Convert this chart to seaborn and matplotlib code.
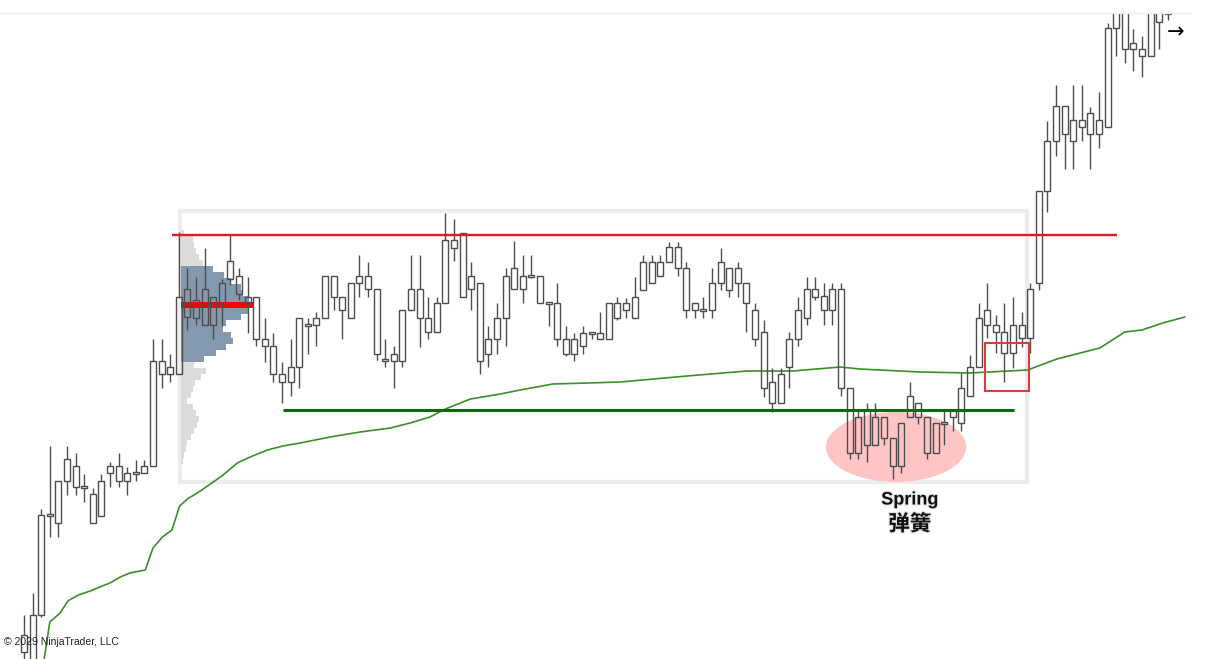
""" Trading range with a spring, drawn as a hollow candlestick chart """
import numpy as np
import pandas as pd
import seaborn as sns
import matplotlib.pyplot as plt
import matplotlib.patheffects as pe
from matplotlib.patches import Ellipse, Rectangle
from matplotlib.lines import Line2D

# OHLC per bar (price units)
opens = [8, 0, 45, 144, 137, 201, 194, 174, 137, 144,
         194, 194, 179, 186, 187, 194, 299, 286, 286, 371,
         342, 371, 335, 355, 399, 384, 363, 363, 321, 314,
         278, 278, 293, 334, 335, 342, 384, 350, 342, 384,
         384, 371, 299, 299, 299, 371, 371, 328, 328, 357,
         420, 427, 384, 377, 306, 321, 342, 392, 371, 385,
         384, 358, 357, 321, 306, 314, 328, 321, 321, 342,
         357, 342, 370, 377, 384, 413, 413, 392, 357, 349,
         350, 398, 370, 392, 377, 350, 328, 257, 257, 293,
         321, 342, 371, 350, 371, 371, 272, 207, 250, 215,
         243, 194, 194, 264, 257, 243, 207, 236, 243, 237,
         264, 293, 350, 335, 307, 307, 322, 322, 377, 469,
         519, 554, 519, 540, 526, 526, 533, 660, 660, 617,
         604, 604, 638, 646]
highs = [45, 67, 151, 214, 179, 214, 207, 186, 172, 186,
         198, 207, 193, 200, 200, 321, 321, 306, 428, 392,
         383, 412, 363, 381, 425, 392, 383, 363, 342, 327,
         298, 321, 342, 342, 348, 384, 384, 363, 377, 405,
         398, 371, 321, 314, 350, 405, 405, 363, 363, 447,
         441, 427, 398, 377, 334, 357, 392, 419, 405, 405,
         384, 358, 377, 334, 327, 334, 328, 348, 357, 363,
         362, 383, 405, 405, 405, 418, 418, 398, 357, 363,
         392, 412, 392, 398, 377, 357, 340, 292, 292, 328,
         363, 383, 383, 377, 377, 377, 272, 250, 257, 257,
         243, 222, 237, 278, 257, 243, 237, 250, 250, 287,
         305, 357, 377, 345, 357, 363, 348, 377, 469, 539,
         575, 554, 575, 575, 553, 568, 637, 670, 665, 631,
         624, 665, 660, 650]
lows = [0, 0, 43, 123, 123, 165, 165, 158, 137, 144,
        173, 173, 165, 179, 187, 194, 272, 278, 286, 330,
        335, 335, 321, 334, 375, 360, 327, 314, 298, 278,
        257, 264, 272, 306, 314, 342, 350, 321, 342, 363,
        363, 300, 293, 272, 293, 350, 313, 321, 328, 357,
        399, 363, 350, 286, 293, 306, 314, 371, 357, 382,
        357, 334, 314, 304, 299, 306, 321, 321, 321, 340,
        342, 342, 370, 377, 384, 398, 384, 342, 342, 342,
        342, 370, 363, 363, 328, 314, 263, 248, 257, 272,
        314, 335, 360, 335, 335, 264, 201, 201, 198, 215,
        215, 181, 187, 243, 236, 201, 207, 215, 229, 229,
        264, 293, 322, 307, 278, 292, 313, 307, 370, 448,
        504, 491, 491, 519, 491, 512, 533, 604, 597, 589,
        583, 604, 611, 640]
closes = [25, 45, 145, 146, 179, 179, 173, 172, 166, 179,
          187, 179, 187, 188, 194, 299, 286, 293, 363, 343,
          360, 335, 363, 377, 381, 366, 358, 321, 314, 286,
          286, 293, 342, 336, 342, 384, 363, 363, 377, 377,
          371, 306, 301, 306, 350, 350, 342, 342, 357, 420,
          412, 363, 371, 299, 321, 342, 384, 371, 384, 383,
          357, 356, 321, 306, 321, 327, 326, 327, 357, 357,
          350, 363, 398, 398, 398, 398, 392, 350, 350, 351,
          377, 377, 392, 377, 357, 321, 272, 278, 286, 321,
          350, 371, 363, 364, 350, 272, 207, 243, 215, 243,
          222, 222, 237, 243, 243, 207, 237, 238, 250, 272,
          293, 342, 335, 328, 328, 335, 335, 371, 469, 519,
          554, 526, 540, 533, 547, 540, 632, 632, 611, 611,
          611, 660, 652, 648]

# moving average line (bar position, price)
ma_bar = [2.3, 3.0, 4.2, 5.1, 6.3, 7.7, 9.1, 10.0, 11.2, 12.3,
          14.1, 15.0, 16.1, 17.2, 18.1, 19.0, 20.5, 23.0, 24.8, 26.3,
          28.3, 30.1, 32.1, 35.6, 39.1, 42.6, 44.9, 47.2, 49.0, 51.9,
          55.4, 57.7, 61.5, 65.5, 69.3, 77.1, 84.1, 89.4, 94.9, 97.2,
          104.2, 110.0, 116.7, 120.1, 125.1, 128.0, 130.0, 132.4, 135.0]
ma_price = [-2, 38, 47, 59, 65, 69, 74, 77, 83, 87,
            90, 112, 123, 130, 154, 161, 169, 184, 197, 203,
            210, 214, 217, 223, 228, 232, 237, 243, 251, 261,
            266, 270, 276, 277, 278, 284, 289, 289, 293, 291,
            288, 287, 290, 301, 312, 328, 330, 337, 343]

# volume profile of the range, top row first
profile_price = list(range(427, 198, -6))
profile_vol = [30, 120, 130, 150, 180, 220, 320, 430, 500, 600,
               620, 680, 730, 670, 600, 450, 420, 500, 520, 450,
               350, 230, 130, 250, 200, 140, 120, 100, 60, 120,
               150, 180, 160, 130, 100, 60, 50, 30, 20]
poc_row = 12
va_rows = (6, 21)

range_high = 425
range_low = 250

sns.set_style("white")
fig = plt.figure(figsize=(12.07, 6.59), dpi=100)
ax = fig.add_axes([0, 0, 1, 646 / 659])
ax.set_xlim(-2.79, 137.56)
ax.set_ylim(1, 647)
ax.axis("off")

# range box around the profile
ax.add_patch(Rectangle((18.14, 178), 98.5, 271, fill=False,
                       edgecolor="#ececec", lw=3, zorder=1))

# spring highlight
ax.add_patch(Ellipse((101.4, 213), 16.3, 70, facecolor="#ffc4c4",
                     edgecolor="none", zorder=1))

# volume profile
vol = np.array(profile_vol, dtype=float)
widths = vol / vol.max() * 8.5
colors = ["#8499ae" if va_rows[0] <= k <= va_rows[1] else "#dcdcdc"
          for k in range(len(vol))]
ax.barh(profile_price, widths, height=5.6, left=18.3, color=colors,
        lw=0, zorder=2)
ax.barh(profile_price[poc_row], widths[poc_row], height=6.5, left=18.3,
        color="#ff0000", lw=0, zorder=3)

# moving average
ma = pd.DataFrame({"bar": ma_bar, "price": ma_price})
sns.lineplot(data=ma, x="bar", y="price", color="#3b8f2b", lw=1.2,
             sort=False, ax=ax, zorder=2)

# candles (hollow bodies)
o = np.array(opens)
c = np.array(closes)
x = np.arange(len(o))
top = np.maximum(o, c)
bot = np.minimum(o, c)
edge = "#4d4d4d"
ax.vlines(x, top, highs, color=edge, lw=1.0, zorder=4)
ax.vlines(x, lows, bot, color=edge, lw=1.0, zorder=4)
ax.bar(x, top - bot, bottom=bot, width=0.7, fill=False,
       edgecolor=edge, lw=1.0, zorder=4)

# range high / low
ax.hlines(range_high, 17.2, 127.1, color="#e01a1f", lw=1.7, zorder=5)
ax.hlines(range_low, 30.1, 115.1, color="#0b6b0b", lw=2.2, zorder=5)

# test after the spring
ax.add_patch(Rectangle((111.74, 269), 5.12, 48, fill=False,
                       edgecolor="#e03c3c", lw=1.5, zorder=5))

glow = [pe.withStroke(linewidth=1.5, foreground="#e2e2e2")]
ax.text(103.0, 160, "Spring", ha="center", va="center", fontsize=13,
        fontweight="bold", family=["Liberation Sans", "Noto Sans CJK SC"],
        color="#111111", path_effects=glow, zorder=6)
ax.text(103.0, 136, "弹簧", ha="center", va="center", fontsize=15.5,
        fontweight="bold", family=["Noto Sans CJK SC", "DejaVu Sans"],
        color="#111111", path_effects=glow, zorder=6)
ax.text(133.95, 628, "→", ha="center", va="center", fontsize=15,
        color="black", zorder=6)

fig.add_artist(Line2D([0, 1190 / 1207], [1 - 13 / 659, 1 - 13 / 659],
                      color="#ececec", lw=1))
fig.text(4 / 1207, 1 - 642 / 659, "© 2029 NinjaTrader, LLC", fontsize=7.5,
         family="Liberation Sans", va="center", color="#222222")

fig.savefig("out.png", dpi=100)
